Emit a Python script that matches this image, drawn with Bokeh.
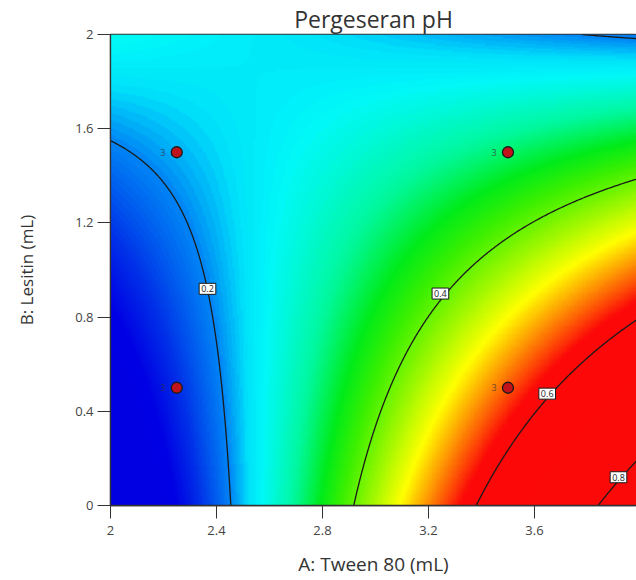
import numpy as np
import contourpy
from bokeh.plotting import figure
from bokeh.models import LinearColorMapper, Label, Range1d, FixedTicker
from bokeh.core.properties import value
from bokeh.embed import file_html
from bokeh.resources import INLINE

# Response model (coded A = Tween 80 - 3, B = Lesitin - 1), coefficients
model_terms = ["1", "A", "B", "AB", "A2", "B2"]
model_coef = [0.3298, 0.2005, -0.1061, -0.2318, 0.0018, -0.0004]

# contour levels and where their labels sit
contour_levels = [0.2, 0.4, 0.6, 0.8]
contour_label_text = ["0.2", "0.4", "0.6", "0.8"]
contour_label_x = [2.366, 3.245, 3.648, 3.917]
contour_label_y = [0.92, 0.90, 0.475, 0.12]

# design points and replicate counts
pts_tween = [2.25, 3.5, 2.25, 3.5]
pts_lesitin = [1.5, 1.5, 0.5, 0.5]
pts_reps = ["3", "3", "3", "3"]

X_LO, X_HI = 2.0, 3.985
Y_LO, Y_HI = 0.0, 2.0
n = 400
gx = np.linspace(X_LO, X_HI, n)
gy = np.linspace(Y_LO, Y_HI, n)
GX, GY = np.meshgrid(gx, gy)
A = GX - 3
B = GY - 1
c = model_coef
Z = c[0] + c[1]*A + c[2]*B + c[3]*A*B + c[4]*A*A + c[5]*B*B

stops = [(0.00, (0, 0, 225)), (0.11, (0, 0, 228)), (0.15, (0, 50, 232)), (0.20, (0, 135, 245)),
         (0.228, (0, 225, 250)), (0.25, (0, 248, 248)), (0.30, (0, 248, 160)), (0.345, (0, 235, 25)),
         (0.38, (60, 240, 0)), (0.475, (255, 255, 0)), (0.575, (252, 8, 8)), (1.0, (250, 8, 8))]
lo, hi = 0.0, 1.0
pal = []
for i in range(256):
    v = lo + (hi - lo) * i / 255
    col = stops[-1][1]
    for j in range(len(stops) - 1):
        v0, c0 = stops[j]
        v1, c1 = stops[j + 1]
        if v0 <= v <= v1:
            t = (v - v0) / (v1 - v0)
            col = tuple(int(round(c0[k] + (c1[k] - c0[k]) * t)) for k in range(3))
            break
    pal.append("#%02x%02x%02x" % col)
mapper = LinearColorMapper(palette=pal, low=lo, high=hi)

p = figure(width=636, height=580, x_range=Range1d(X_LO, X_HI), y_range=Range1d(Y_LO, Y_HI),
           output_backend="svg", toolbar_location=None,
           min_border_left=110, min_border_right=0, min_border_top=33, min_border_bottom=75)
p.image(image=[Z], x=X_LO, y=Y_LO, dw=X_HI - X_LO, dh=Y_HI - Y_LO, color_mapper=mapper)

gen = contourpy.contour_generator(GX, GY, Z)
xs, ys = [], []
for lv in contour_levels:
    for seg in gen.lines(lv):
        xs.append(list(seg[:, 0]))
        ys.append(list(seg[:, 1]))
p.multi_line(xs, ys, line_color="#1a1a1a", line_width=1.3)

for t, lx, ly in zip(contour_label_text, contour_label_x, contour_label_y):
    p.add_layout(Label(x=lx, y=ly, text=t, text_align="center", text_baseline="middle",
                       text_font="Open Sans", text_font_size="9px", text_color="#222222",
                       background_fill_color="white", border_line_color="#1a1a1a",
                       border_line_width=1, padding=2))

p.scatter(pts_tween, pts_lesitin, size=11, fill_color="#c0141a", line_color="#1a1a1a", line_width=1.3)
p.text(pts_tween, pts_lesitin, text=pts_reps, x_offset=-14, text_align="center", text_baseline="middle",
       text_font=value("Open Sans"), text_font_size="9px", text_color="#333333", text_alpha=0.75)

p.grid.visible = False
p.title.text = "Pergeseran pH"
p.title.align = "center"
p.title.text_font = "Open Sans"
p.title.text_font_size = "23px"
p.title.text_font_style = "normal"
p.title.text_color = "#333333"
p.title.standoff = 0
p.xaxis.axis_label = "A: Tween 80 (mL)"
p.yaxis.axis_label = "B: Lesitin (mL)"
p.xaxis.ticker = FixedTicker(ticks=[2, 2.4, 2.8, 3.2, 3.6, 4])
p.yaxis.ticker = FixedTicker(ticks=[0, 0.4, 0.8, 1.2, 1.6, 2])
for ax in (p.xaxis[0], p.yaxis[0]):
    ax.major_tick_in = 0
    ax.major_tick_out = 13
    ax.minor_tick_out = 0
    ax.minor_tick_in = 0
    ax.axis_line_color = "#333333"
    ax.axis_line_width = 1.3
    ax.major_tick_line_color = "#333333"
    ax.major_label_text_font = "Open Sans"
    ax.major_label_text_font_size = "13px"
    ax.major_label_text_color = "#444444"
    ax.axis_label_text_font = "Open Sans"
    ax.axis_label_text_font_style = "normal"
    ax.axis_label_text_color = "#333333"
p.xaxis.axis_label_text_font_size = "19px"
p.yaxis.axis_label_text_font_size = "17px"
p.yaxis.axis_label_standoff = 34
p.xaxis.axis_label_standoff = 13
p.xaxis.major_label_standoff = 7
p.yaxis.major_label_standoff = 4
p.outline_line_color = "#333333"
p.outline_line_width = 1.3

open("out.html", "w").write(file_html(p, INLINE))
